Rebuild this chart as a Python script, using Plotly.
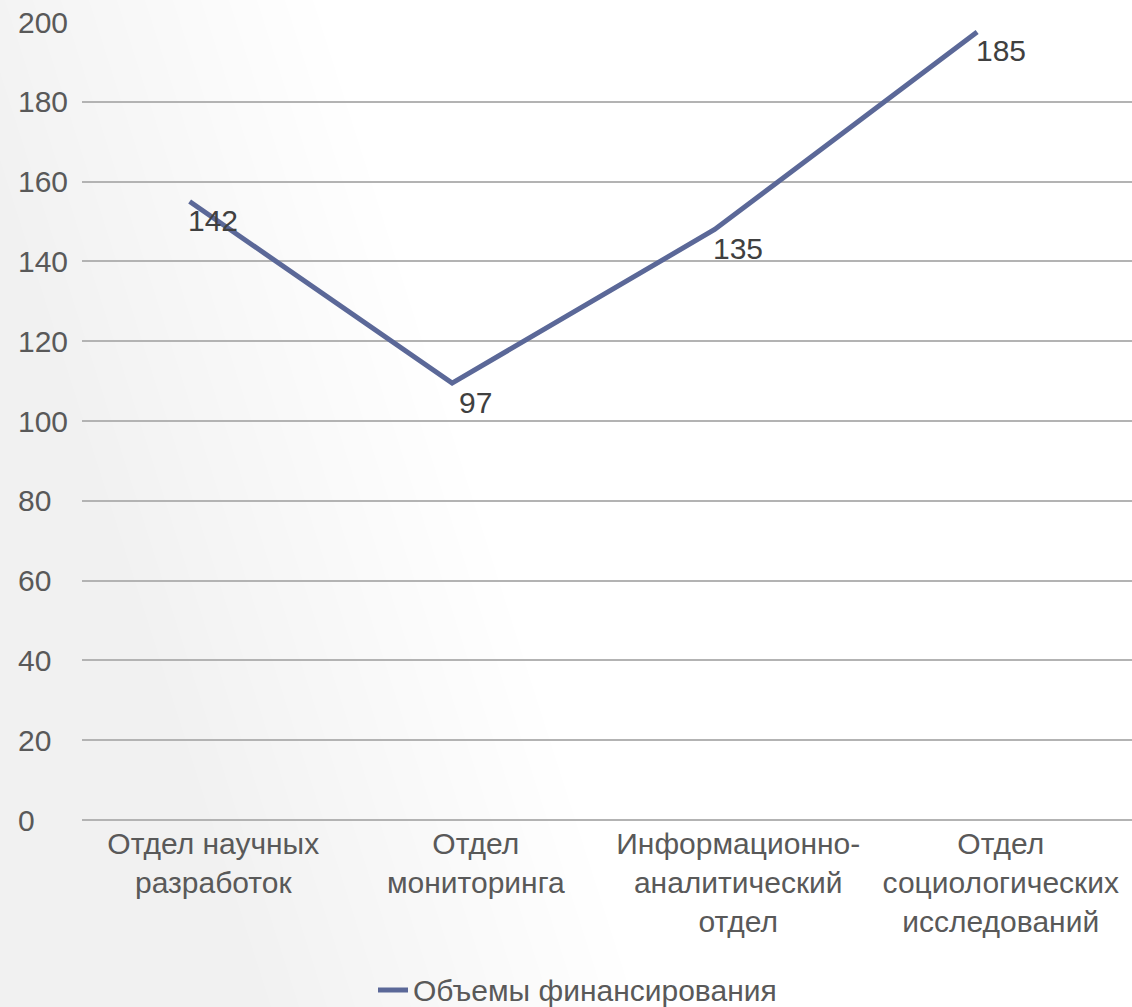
import plotly.graph_objects as go

categories = [
    "Отдел научных<br>разработок",
    "Отдел<br>мониторинга",
    "Информационно-<br>аналитический<br>отдел",
    "Отдел<br>социологических<br>исследований",
]
plotted_values = [155, 109.5, 148, 197.5]
value_labels = [142, 97, 135, 185]
series_name = "Объемы финансирования"
y_ticks = [0, 20, 40, 60, 80, 100, 120, 140, 160, 180, 200]

W, H = 1132, 1007
ML, MR, MT, MB = 82, 0, 22, 187
PW = W - ML - MR
PH = H - MT - MB
LINE_SHIFT = -0.09
FONT = "Liberation Sans, Arial, sans-serif"
TXT = "#595959"
LINE_COLOR = "#5b6898"
FS = 30

idx = list(range(len(categories)))


def px(xp):
    return (xp - ML) / PW


def py(yp):
    return (H - MB - yp) / PH


fig = go.Figure()
fig.add_trace(go.Scatter(
    x=[i + LINE_SHIFT for i in idx], y=plotted_values, mode="lines",
    name=series_name, line=dict(color=LINE_COLOR, width=5),
    hoverinfo="skip", showlegend=False,
))

# subtle diagonal background gradient (darker towards bottom-left)
shapes = []
for k in range(1, 15):
    c = 28 * k - 80
    pts = [(-5, -5), (c, -5), (c + 0.32 * (H + 10), H + 5), (-5, H + 5)]
    path = "M " + " L ".join(f"{px(a):.5f},{py(b):.5f}" for a, b in pts) + " Z"
    shapes.append(dict(type="path", xref="paper", yref="paper", layer="below", path=path,
                       fillcolor="rgba(0,0,0,0.004)", line=dict(width=0)))

# manual legend (so it does not push the margins)
leg_y = py(990)
shapes.append(dict(type="line", xref="paper", yref="paper",
                   x0=px(378), x1=px(408), y0=leg_y, y1=leg_y,
                   line=dict(color=LINE_COLOR, width=5)))

annotations = [dict(xref="paper", yref="paper", x=px(411), y=leg_y,
                    xanchor="left", yanchor="middle", text=series_name, showarrow=False,
                    font=dict(size=FS, color=TXT, family=FONT))]
for t in y_ticks:
    annotations.append(dict(xref="paper", yref="y", x=px(16), y=t,
                            xanchor="left", yanchor="middle", text=str(t), showarrow=False,
                            font=dict(size=FS, color=TXT, family=FONT)))
for i, v, lab in zip(idx, plotted_values, value_labels):
    annotations.append(dict(xref="x", yref="y", x=i, y=v, xanchor="center", yanchor="middle",
                            yshift=-19, text=str(lab), showarrow=False,
                            font=dict(size=FS, color="#404040", family=FONT)))

fig.update_layout(
    width=W, height=H,
    margin=dict(l=ML, r=MR, t=MT, b=MB),
    paper_bgcolor="white", plot_bgcolor="rgba(0,0,0,0)",
    font=dict(family=FONT, color=TXT, size=FS),
    shapes=shapes, annotations=annotations,
    showlegend=False,
    xaxis=dict(range=[-0.5, len(categories) - 0.5], tickmode="array", tickvals=idx,
               ticktext=categories, showgrid=False, zeroline=False, showline=False,
               ticks="", ticklabelstandoff=3,
               tickfont=dict(size=FS, color=TXT, family=FONT), fixedrange=True),
    yaxis=dict(range=[0, 200], tickvals=y_ticks, showticklabels=False,
               showgrid=True, gridcolor="#b3b3b3", gridwidth=2,
               zeroline=True, zerolinecolor="#b3b3b3", zerolinewidth=2,
               showline=False, ticks="", fixedrange=True),
)

fig.write_html("out.html", config={"displayModeBar": False, "staticPlot": True},
               post_script="document.body.style.margin='0';")
